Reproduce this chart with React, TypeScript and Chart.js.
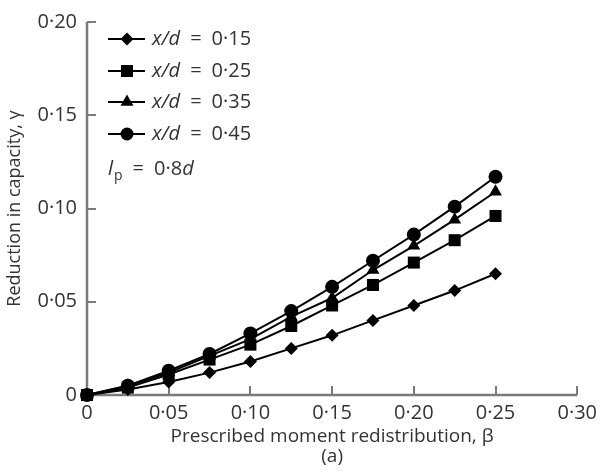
import React, { useEffect, useRef } from "react";
import { Chart, registerables } from "chart.js";

Chart.register(...registerables);

const betaValues = [0, 0.025, 0.05, 0.075, 0.1, 0.125, 0.15, 0.175, 0.2, 0.225, 0.25];
const seriesLabels = ["0·15", "0·25", "0·35", "0·45"];
const gamma015 = [0, 0.003, 0.007, 0.012, 0.018, 0.025, 0.032, 0.04, 0.048, 0.056, 0.065];
const gamma025 = [0, 0.004, 0.011, 0.019, 0.027, 0.037, 0.048, 0.059, 0.071, 0.083, 0.096];
const gamma035 = [0, 0.005, 0.012, 0.021, 0.03, 0.042, 0.052, 0.067, 0.08, 0.094, 0.109];
const gamma045 = [0, 0.005, 0.013, 0.022, 0.033, 0.045, 0.058, 0.072, 0.086, 0.101, 0.117];
const xTickLabels = ["0", "0·05", "0·10", "0·15", "0·20", "0·25", "0·30"];
const yTickLabels = ["0", "0·05", "0·10", "0·15", "0·20"];
const markerStyles = ["rectRot", "rect", "triangle", "circle"];
const markerRadii = [6.5, 8.5, 7.5, 7];

const FONT = "'Open Sans', 'Noto Sans', sans-serif";
const TEXT = "#333333";
const AXIS = "#7a7a7a";

function drawMarker(ctx: CanvasRenderingContext2D, style: string, x: number, y: number) {
  ctx.beginPath();
  if (style === "rectRot") {
    const r = 6.5;
    ctx.moveTo(x, y - r);
    ctx.lineTo(x + r, y);
    ctx.lineTo(x, y + r);
    ctx.lineTo(x - r, y);
    ctx.closePath();
  } else if (style === "rect") {
    const s = 6;
    ctx.rect(x - s, y - s, 2 * s, 2 * s);
  } else if (style === "triangle") {
    const r = 7.5;
    ctx.moveTo(x, y - r);
    ctx.lineTo(x + r * 0.866, y + r * 0.5);
    ctx.lineTo(x - r * 0.866, y + r * 0.5);
    ctx.closePath();
  } else {
    ctx.arc(x, y, 6.5, 0, Math.PI * 2);
  }
  ctx.fill();
}

const axesPlugin = {
  id: "customAxes",
  beforeDatasetsDraw(chart: any) {
    const ctx = chart.ctx as CanvasRenderingContext2D;
    const { left, right, top, bottom } = chart.chartArea;
    const xs = chart.scales.x;
    const ys = chart.scales.y;
    ctx.save();
    ctx.strokeStyle = AXIS;
    ctx.lineWidth = 2.5;
    ctx.beginPath();
    ctx.moveTo(left, top);
    ctx.lineTo(left, bottom);
    ctx.lineTo(right, bottom);
    ctx.stroke();
    ctx.lineWidth = 2;
    ctx.beginPath();
    for (let i = 1; i < yTickLabels.length; i++) {
      const py = Math.round(ys.getPixelForValue(i * 0.05));
      ctx.moveTo(left, py);
      ctx.lineTo(left + 9, py);
    }
    for (let i = 1; i < xTickLabels.length; i++) {
      const px = Math.round(xs.getPixelForValue(i * 0.05));
      ctx.moveTo(px, bottom);
      ctx.lineTo(px, bottom - 9);
    }
    ctx.stroke();
    ctx.restore();
  },
  afterDraw(chart: any) {
    const ctx = chart.ctx as CanvasRenderingContext2D;
    const { left, top } = chart.chartArea;
    ctx.save();
    ctx.textBaseline = "middle";
    const rows = [17, 49, 80, 112];
    const gap = 10;
    seriesLabels.forEach((lab, i) => {
      const y = top + rows[i];
      ctx.strokeStyle = "#000";
      ctx.fillStyle = "#000";
      ctx.lineWidth = 2;
      ctx.beginPath();
      ctx.moveTo(left + 21, y);
      ctx.lineTo(left + 58, y);
      ctx.stroke();
      drawMarker(ctx, markerStyles[i], left + 40, y);
      ctx.fillStyle = TEXT;
      let x = left + 65;
      ctx.font = `italic 20px ${FONT}`;
      ctx.fillText("x/d", x, y);
      x += ctx.measureText("x/d").width + gap;
      ctx.font = `20px ${FONT}`;
      ctx.fillText("=", x, y);
      x += ctx.measureText("=").width + gap;
      ctx.fillText(lab, x, y);
    });
    const y = top + 147;
    let x = left + 21;
    ctx.fillStyle = TEXT;
    ctx.font = `italic 20px ${FONT}`;
    ctx.fillText("l", x, y);
    x += ctx.measureText("l").width + 1;
    ctx.font = `14px ${FONT}`;
    ctx.fillText("p", x, y + 7);
    x += ctx.measureText("p").width + gap;
    ctx.font = `20px ${FONT}`;
    ctx.fillText("=", x, y);
    x += ctx.measureText("=").width + gap;
    ctx.fillText("0·8", x, y);
    x += ctx.measureText("0·8").width;
    ctx.font = `italic 20px ${FONT}`;
    ctx.fillText("d", x, y);
    ctx.restore();
  },
};

export default function App() {
  const ref = useRef<HTMLCanvasElement | null>(null);
  useEffect(() => {
    document.body.style.margin = "0";
    const series = [gamma015, gamma025, gamma035, gamma045];
    const chart = new Chart(ref.current as HTMLCanvasElement, {
      type: "line",
      data: {
        datasets: series.map((vals, i) => ({
          label: "x/d = " + seriesLabels[i],
          data: vals.map((v, j) => ({ x: betaValues[j], y: v })),
          borderColor: "#000",
          backgroundColor: "#000",
          borderWidth: 2,
          pointStyle: markerStyles[i] as any,
          pointRadius: markerRadii[i],
          pointBorderWidth: 0,
          pointBackgroundColor: "#000",
          tension: 0,
          fill: false,
          clip: false as any,
        })),
      },
      options: {
        animation: false,
        responsive: false,
        events: [],
        layout: { autoPadding: false, padding: { left: 0, right: 16, top: 20, bottom: 0 } } as any,
        plugins: { legend: { display: false }, tooltip: { enabled: false } },
        scales: {
          x: {
            type: "linear",
            min: 0,
            max: 0.3,
            border: { display: false },
            grid: { display: false, drawTicks: false },
            ticks: {
              stepSize: 0.05,
              padding: 6,
              color: TEXT,
              font: { family: FONT, size: 20 },
              maxRotation: 0,
              autoSkip: false,
              callback: (_v: any, i: number) => xTickLabels[i],
            },
            title: {
              display: true,
              text: ["Prescribed moment redistribution, β", "(a)"],
              color: TEXT,
              font: { family: FONT, size: 19, lineHeight: 1.05 },
              padding: { top: 0, bottom: 7 },
            },
            afterFit: (s: any) => {
              s.height = 79;
            },
          },
          y: {
            type: "linear",
            min: 0,
            max: 0.2,
            border: { display: false },
            grid: { display: false, drawTicks: false },
            ticks: {
              stepSize: 0.05,
              padding: 10,
              color: TEXT,
              font: { family: FONT, size: 20 },
              autoSkip: false,
              callback: (_v: any, i: number) => yTickLabels[i],
            },
            title: {
              display: true,
              text: "Reduction in capacity, γ",
              color: TEXT,
              font: { family: FONT, size: 18 },
              padding: { top: 4, bottom: 0 },
            },
            afterFit: (s: any) => {
              s.width = 87;
            },
          },
        },
      },
      plugins: [axesPlugin],
    });
    return () => chart.destroy();
  }, []);
  return <canvas ref={ref} width={603} height={474} style={{ display: "block" }} />;
}
